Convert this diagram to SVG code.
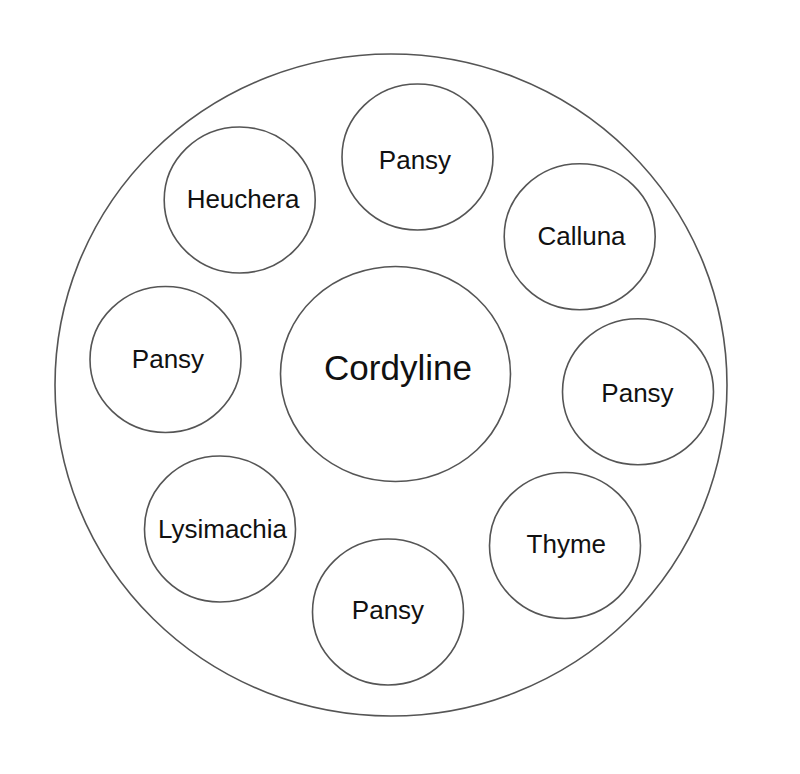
<svg xmlns="http://www.w3.org/2000/svg" width="800" height="774" viewBox="0 0 800 774">
<style>
.c{fill:#fff;stroke:#555;stroke-width:1.6}
.t{font-family:"Liberation Sans",Arial,sans-serif;font-size:26px;fill:#111;text-anchor:middle}
.big{font-size:35px}
</style>
<rect width="800" height="774" fill="#fff"/>
<g id="bed"><ellipse class="c" cx="391" cy="385" rx="336" ry="331"/></g>
<g id="connectors"></g>
<g id="cordyline"><ellipse class="c" cx="395.5" cy="374" rx="115" ry="107.5"/><text class="t big" x="398" y="380">Cordyline</text></g>
<g id="pansy-top"><ellipse class="c" cx="417.5" cy="157" rx="75.5" ry="73"/><text class="t" x="415" y="169">Pansy</text></g>
<g id="heuchera"><ellipse class="c" cx="239.7" cy="200" rx="75.5" ry="73"/><text class="t" x="243" y="208">Heuchera</text></g>
<g id="calluna"><ellipse class="c" cx="579.7" cy="236.7" rx="75.5" ry="73"/><text class="t" x="581.5" y="245">Calluna</text></g>
<g id="pansy-left"><ellipse class="c" cx="165.5" cy="359.5" rx="75.5" ry="73"/><text class="t" x="168" y="368">Pansy</text></g>
<g id="pansy-right"><ellipse class="c" cx="638" cy="391.7" rx="75.5" ry="73"/><text class="t" x="637.5" y="402">Pansy</text></g>
<g id="lysimachia"><ellipse class="c" cx="220" cy="529" rx="75.5" ry="73"/><text class="t" x="222.5" y="538">Lysimachia</text></g>
<g id="thyme"><ellipse class="c" cx="565" cy="545.5" rx="75.5" ry="73"/><text class="t" x="566.3" y="553">Thyme</text></g>
<g id="pansy-bottom"><ellipse class="c" cx="388" cy="612" rx="75.5" ry="73"/><text class="t" x="388" y="618.5">Pansy</text></g>
</svg>
